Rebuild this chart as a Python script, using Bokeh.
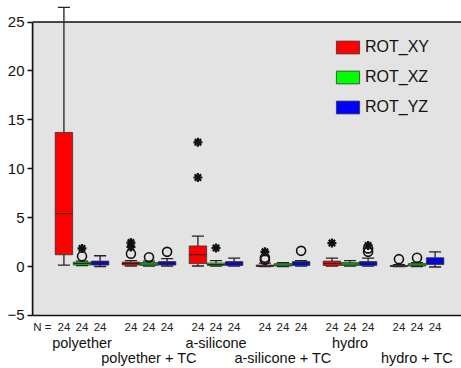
from bokeh.plotting import figure
from bokeh.models import Range1d, Legend, LegendItem, FixedTicker
from bokeh.core.properties import value
from bokeh.embed import file_html
from bokeh.resources import INLINE

# ---------------- data ----------------
groups = ["polyether", "polyether + TC", "a-silicone", "a-silicone + TC", "hydro", "hydro + TC"]
series = ["ROT_XY", "ROT_XZ", "ROT_YZ"]
colors = ["#ff0000", "#00ff00", "#0000ff"]
n_counts = [24, 24, 24, 24, 24, 24]

xy_low  = [0.15, 0.05, 0.05, 0.0, 0.05, 0.0]
xy_q1   = [1.2, 0.15, 0.3, 0.0, 0.1, 0.0]
xy_med  = [5.4, 0.3, 1.2, 0.05, 0.3, 0.05]
xy_q3   = [13.7, 0.45, 2.1, 0.15, 0.55, 0.1]
xy_high = [26.5, 0.6, 3.1, 0.35, 0.85, 0.2]
xy_circ_g = [1, 3, 3, 5]
xy_circ_v = [1.3, 0.7, 0.9, 0.75]
xy_star_g = [1, 1, 2, 2, 3, 4]
xy_star_v = [2.0, 2.45, 9.1, 12.7, 1.5, 2.4]

xz_low  = [0.1, 0.05, 0.05, 0.0, 0.05, 0.0]
xz_q1   = [0.15, 0.1, 0.1, 0.05, 0.1, 0.05]
xz_med  = [0.3, 0.25, 0.2, 0.15, 0.25, 0.15]
xz_q3   = [0.45, 0.4, 0.35, 0.3, 0.4, 0.3]
xz_high = [0.55, 0.55, 0.6, 0.4, 0.6, 0.4]
xz_circ_g = [0, 1, 5]
xz_circ_v = [1.05, 0.95, 0.9]
xz_star_g = [0, 2]
xz_star_v = [1.85, 1.9]

yz_low  = [0.0, 0.05, 0.05, 0.05, 0.05, -0.05]
yz_q1   = [0.15, 0.15, 0.1, 0.1, 0.1, 0.2]
yz_med  = [0.4, 0.35, 0.3, 0.3, 0.3, 0.45]
yz_q3   = [0.55, 0.5, 0.5, 0.5, 0.5, 0.9]
yz_high = [1.1, 0.8, 0.85, 0.6, 0.85, 1.5]
yz_circ_g = [1, 3, 4, 4]
yz_circ_v = [1.5, 1.6, 1.5, 1.85]
yz_star_g = [4]
yz_star_v = [2.15]

y_ticks = [-5, 0, 5, 10, 15, 20, 25]

stats = [
    (xy_low, xy_q1, xy_med, xy_q3, xy_high, xy_circ_g, xy_circ_v, xy_star_g, xy_star_v),
    (xz_low, xz_q1, xz_med, xz_q3, xz_high, xz_circ_g, xz_circ_v, xz_star_g, xz_star_v),
    (yz_low, yz_q1, yz_med, yz_q3, yz_high, yz_circ_g, yz_circ_v, yz_star_g, yz_star_v),
]

# ---------------- layout ----------------
offsets = [-0.27, 0.0, 0.27]
box_w = 0.26
cap_w = 0.18
FONT = "Liberation Sans"
BG = "#e3e3e3"

x0, x1 = -0.739, 5.664
p = figure(width=461, height=368, output_backend="svg", toolbar_location=None,
           x_range=Range1d(x0, x1), y_range=Range1d(-10.43, 27.2),
           min_border_left=32, min_border_right=0, min_border_top=0, min_border_bottom=0)
p.xaxis.visible = False
p.xgrid.visible = False
p.ygrid.visible = False
p.outline_line_color = None
p.background_fill_color = "white"

# grey plotting panel
p.quad(left=x0, right=x1 + 1, bottom=y_ticks[0], top=y_ticks[-1],
       fill_color=BG, line_color="#111111", line_width=1.5)

ya = p.yaxis[0]
ya.bounds = (y_ticks[0], y_ticks[-1])
ya.ticker = FixedTicker(ticks=y_ticks)
ya.minor_tick_line_color = None
ya.major_tick_out = 5
ya.major_tick_in = 0
ya.major_label_standoff = 3
ya.axis_line_width = 1.5
ya.major_tick_line_width = 1.5
ya.axis_line_color = "#111111"
ya.major_tick_line_color = "#111111"
ya.major_label_text_font = FONT
ya.major_label_text_font_size = "15px"
ya.major_label_text_color = "#111111"

legend_items = []
for si, (lo, q1, md, q3, hi, cg, cv, sg, sv) in enumerate(stats):
    xs = [g + offsets[si] for g in range(len(groups))]
    # whiskers
    p.segment(x0=xs, y0=q3, x1=xs, y1=hi, line_color="#222222", line_width=1.3)
    p.segment(x0=xs, y0=q1, x1=xs, y1=lo, line_color="#222222", line_width=1.3)
    p.segment(x0=[x - cap_w / 2 for x in xs], y0=hi, x1=[x + cap_w / 2 for x in xs], y1=hi,
              line_color="#222222", line_width=1.3)
    p.segment(x0=[x - cap_w / 2 for x in xs], y0=lo, x1=[x + cap_w / 2 for x in xs], y1=lo,
              line_color="#222222", line_width=1.3)
    r = p.vbar(x=xs, width=box_w, bottom=q1, top=q3, fill_color=colors[si],
               line_color="#333333", line_width=0.8)
    p.segment(x0=[x - box_w / 2 for x in xs], y0=md, x1=[x + box_w / 2 for x in xs], y1=md,
              line_color="#222222", line_width=1)
    legend_items.append(LegendItem(label=series[si], renderers=[r]))
    # outliers
    p.scatter(x=[g + offsets[si] for g in cg], y=cv, marker="circle", size=9,
              fill_alpha=0, line_color="#111111", line_width=1.6)
    p.scatter(x=[g + offsets[si] for g in sg], y=sv, marker="asterisk", size=9,
              line_color="#111111", line_width=2.2)
    # N labels
    p.text(x=xs, y=[-6.2] * len(xs), text=[str(n) for n in n_counts],
           text_font=value(FONT), text_font_size="11.5px", text_color="#222222",
           text_align="center", text_baseline="middle")

p.text(x=[x0 + 0.01], y=[-6.2], text=["N ="], text_font=value(FONT), text_font_size="11.5px",
       text_color="#222222", text_align="left", text_baseline="middle")

# category labels, alternating rows
p.text(x=list(range(0, len(groups), 2)), y=[-7.84] * 3, text=groups[0::2],
       text_font=value(FONT), text_font_size="14.5px", text_color="#111111",
       text_align="center", text_baseline="middle")
p.text(x=list(range(1, len(groups), 2)), y=[-9.34] * 3, text=groups[1::2],
       text_font=value(FONT), text_font_size="14.5px", text_color="#111111",
       text_align="center", text_baseline="middle")

legend = Legend(items=legend_items, location=(301, 252), padding=0, margin=0,
                glyph_width=29, glyph_height=16, label_standoff=3, spacing=12,
                label_text_font=FONT, label_text_font_size="16px", label_text_color="#111111",
                border_line_color=None, background_fill_alpha=0)
p.add_layout(legend, "center")

open("out.html", "w").write(file_html(p, INLINE))
